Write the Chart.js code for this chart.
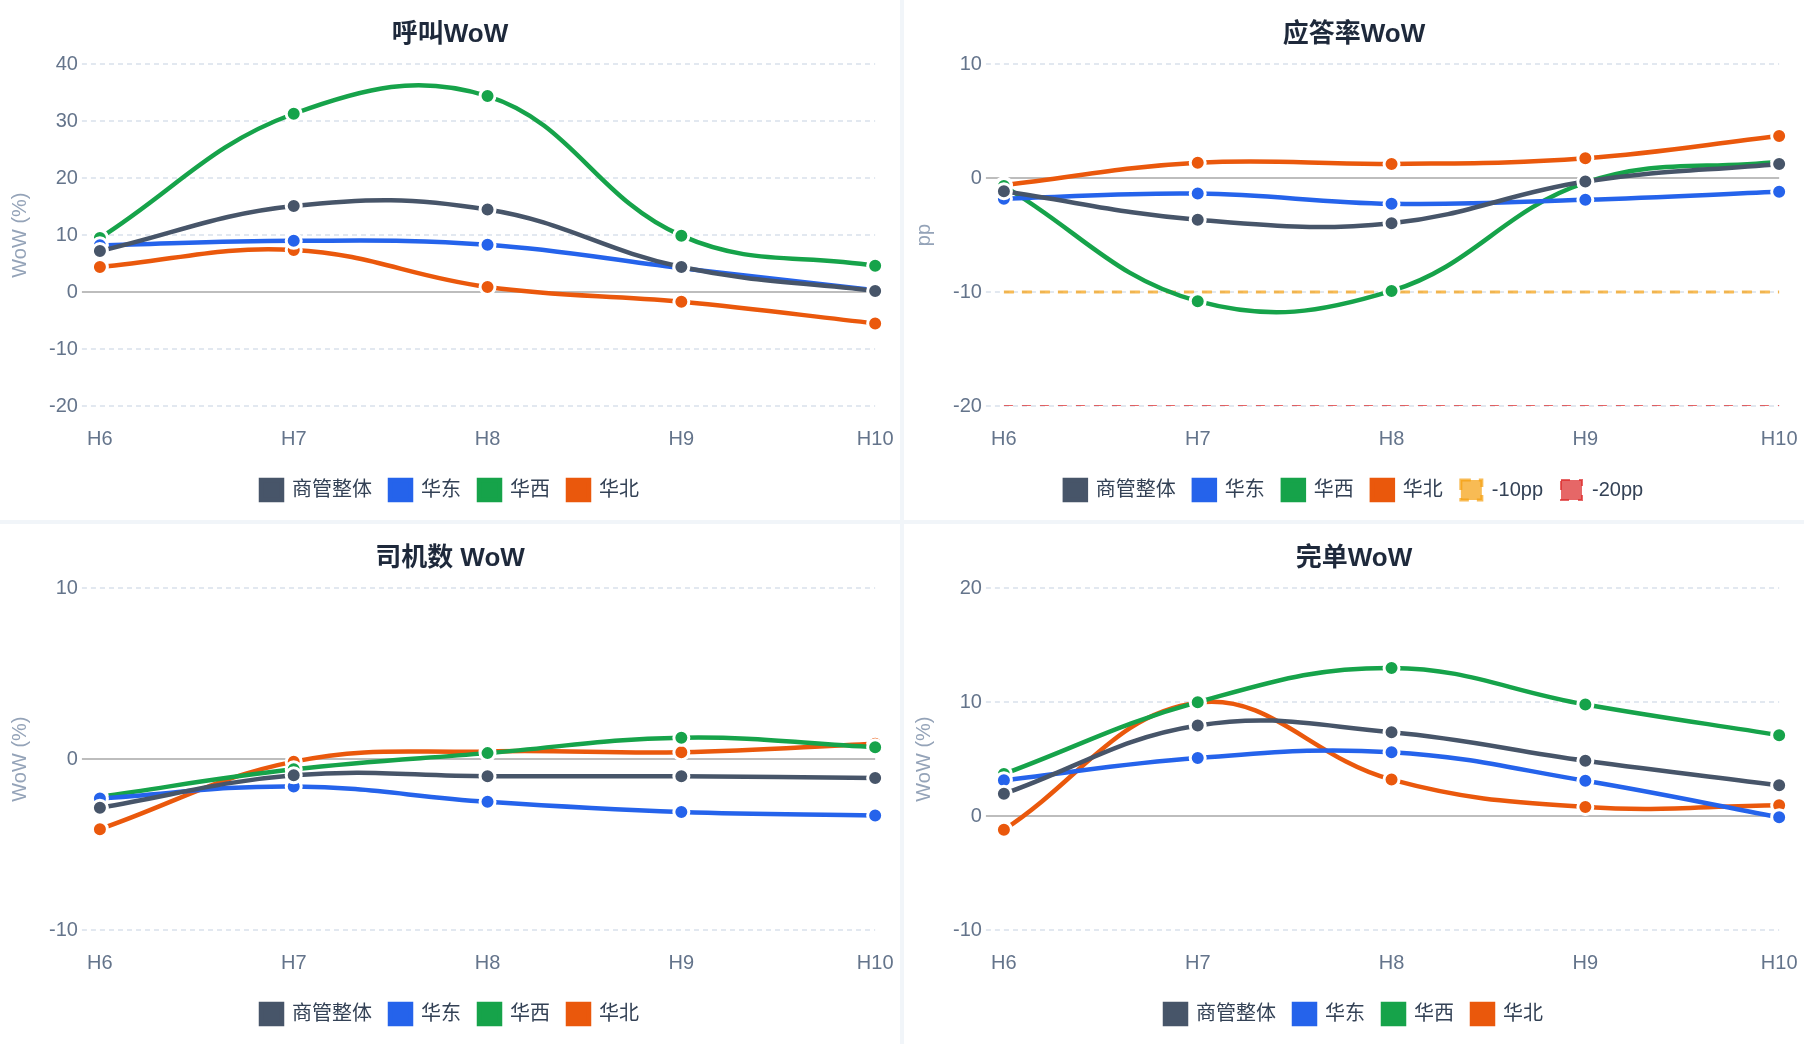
<!DOCTYPE html>
<html>
<head>
<meta charset="utf-8">
<script src="https://cdn.jsdelivr.net/npm/chart.js@4/dist/chart.umd.min.js"></script>
<style>
  html,body{margin:0;padding:0;background:#f1f5f9;}
  .grid{display:grid;grid-template-columns:900px 900px;grid-template-rows:520px 520px;gap:4px;width:1804px;height:1044px;}
  .panel{background:#fff;position:relative;}
</style>
</head>
<body>
<div class="grid">
  <div class="panel"><canvas id="c1"></canvas></div>
  <div class="panel"><canvas id="c2"></canvas></div>
  <div class="panel"><canvas id="c3"></canvas></div>
  <div class="panel"><canvas id="c4"></canvas></div>
</div>
<script>
// x axis
const hours = ['H6','H7','H8','H9','H10'];
const seriesNames = ['商管整体','华东','华西','华北'];
const seriesColors = ['#475569','#2563eb','#16a34a','#ea580c'];

// 呼叫WoW (%)
const callOverall = [7.2, 15.1, 14.5, 4.4, 0.2];
const callEast    = [8.2, 9.0, 8.3, 4.2, 0.3];
const callWest    = [9.5, 31.3, 34.4, 9.9, 4.6];
const callNorth   = [4.4, 7.4, 0.9, -1.7, -5.5];

// 应答率WoW (pp)
const ansOverall = [-1.15, -3.65, -3.95, -0.3, 1.25];
const ansEast    = [-1.8, -1.35, -2.25, -1.9, -1.2];
const ansWest    = [-0.7, -10.8, -9.9, -0.4, 1.45];
const ansNorth   = [-0.6, 1.35, 1.25, 1.75, 3.7];
const warnLine   = [-10, -10, -10, -10, -10];
const alarmLine  = [-20, -20, -20, -20, -20];

// 司机数 WoW (%)
const drvOverall = [-2.85, -0.95, -1.0, -1.0, -1.1];
const drvEast    = [-2.3, -1.6, -2.5, -3.1, -3.3];
const drvWest    = [-2.2, -0.6, 0.35, 1.25, 0.7];
const drvNorth   = [-4.1, -0.15, 0.45, 0.4, 0.9];

// 完单WoW (%)
const ordOverall = [1.95, 7.95, 7.35, 4.85, 2.7];
const ordEast    = [3.15, 5.1, 5.6, 3.1, -0.1];
const ordWest    = [3.7, 10.0, 13.0, 9.8, 7.1];
const ordNorth   = [-1.2, 9.95, 3.2, 0.8, 0.95];

Chart.defaults.font.family = "'Liberation Sans', Arial, 'Noto Sans CJK SC', sans-serif";
Chart.defaults.animation = false;

function regionSets(values){
  return values.map((v,i)=>({
    label: seriesNames[i],
    data: v,
    borderColor: seriesColors[i],
    backgroundColor: seriesColors[i],
    pointBackgroundColor: seriesColors[i],
    pointBorderColor: '#fff',
    pointBorderWidth: 3,
    pointRadius: 7.5,
    borderWidth: 4.5,
    tension: 0.4
  }));
}

function refLine(label, data, color, width, dash){
  return {
    label, data,
    borderColor: color, backgroundColor: color,
    borderWidth: width, borderDash: dash,
    pointRadius: 0, tension: 0
  };
}

const isZero = c => c.tick && c.tick.value === 0;

function makeChart(id, title, yTitle, min, max, datasets){
  new Chart(document.getElementById(id), {
    type: 'line',
    data: { labels: hours, datasets },
    options: {
      responsive: true,
      maintainAspectRatio: false,
      layout: { padding: { left: 4, right: 4, bottom: 10 } },
      plugins: {
        title: {
          display: true, text: title, color: '#1e293b',
          font: { size: 26, weight: 'bold' },
          padding: { top: 19, bottom: 14 }
        },
        legend: {
          position: 'bottom',
          labels: { color: '#334155', font: { size: 20 }, boxWidth: 21, boxHeight: 20, padding: 18 }
        },
        tooltip: { enabled: false }
      },
      scales: {
        x: {
          grid: { display: false, drawTicks: true, tickLength: 14.5 },
          border: { display: false },
          ticks: { color: '#64748b', font: { size: 20 }, padding: 6.5 },
          afterFit: s => { s.height += 4.5; }
        },
        y: {
          min, max,
          ticks: { stepSize: 10, color: '#64748b', font: { size: 20 }, padding: 4 },
          title: { display: true, text: yTitle, color: '#94a3b8', font: { size: 20 }, padding: { top: 4, bottom: 13 } },
          border: { display: false, dash: c => isZero(c) ? [] : [5, 4] },
          grid: {
            color: c => isZero(c) ? '#bdbdbd' : '#e2e8f0',
            lineWidth: 2,
            tickLength: 18,
            tickBorderDash: c => isZero(c) ? [] : [5, 4]
          }
        }
      }
    }
  });
}

makeChart('c1', '呼叫WoW', 'WoW (%)', -20, 40, regionSets([callOverall, callEast, callWest, callNorth]));
makeChart('c2', '应答率WoW', 'pp', -20, 10, regionSets([ansOverall, ansEast, ansWest, ansNorth]).concat([
  refLine('-10pp', warnLine, 'rgba(245,158,11,0.7)', 3, [10, 8]),
  refLine('-20pp', alarmLine, 'rgba(220,38,38,0.7)', 2, [9, 9])
]));
makeChart('c3', '司机数 WoW', 'WoW (%)', -10, 10, regionSets([drvOverall, drvEast, drvWest, drvNorth]));
makeChart('c4', '完单WoW', 'WoW (%)', -10, 20, regionSets([ordOverall, ordEast, ordWest, ordNorth]));
</script>
</body>
</html>
